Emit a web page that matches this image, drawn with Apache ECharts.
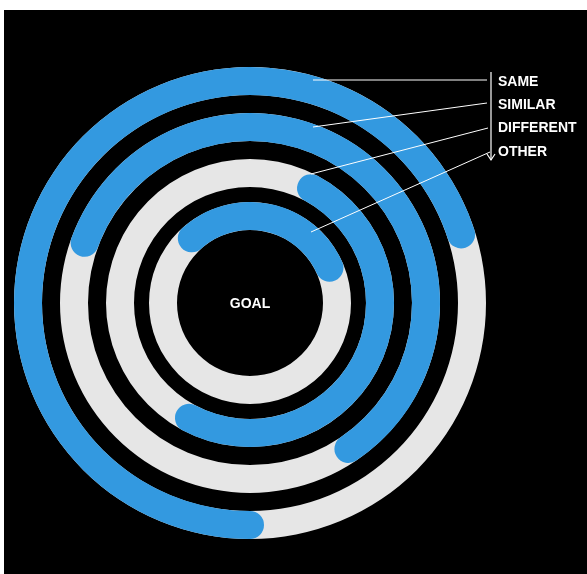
<!DOCTYPE html>
<html><head><meta charset="utf-8">
<script src="https://cdn.jsdelivr.net/npm/echarts@6/dist/echarts.min.js"></script>
<style>
html,body{margin:0;padding:0;background:#fff;width:587px;height:574px;overflow:hidden}
#c{position:absolute;left:4px;top:10px;width:583px;height:564px;background:#000}
</style>
</head><body><div id="c"></div>
<script>
// ---- data ----
const categories = ['SAME', 'SIMILAR', 'DIFFERENT', 'OTHER'];
const values = [70, 60, 50, 30];          // percent of each ring that is filled
const arcStarts = [270, 160, 62, 132];    // where each filled arc begins (degrees)
const centerLabel = 'GOAL';

// ---- layout ----
const CX = 246, CY = 293;
const outerR = [236, 190, 144, 101];
const ringW = 28;
const BLUE = '#3399e0', GREY = '#e6e6e6';
const FONT = 'Liberation Sans, Arial, Helvetica, sans-serif';

const labelX = 494;
const labelY = [72, 95, 118, 142];
const leaderStart = [[483, 70], [483, 93], [484, 118], [486, 142]];
const leaderEnd = [[309, 70], [309, 117], [307, 164], [307, 222]];

const chart = echarts.init(document.getElementById('c'), null, {renderer: 'canvas'});

const polar = categories.map((c, i) => ({center: [CX, CY], radius: [outerR[i] - ringW, outerR[i]]}));
const angleAxis = categories.map((c, i) => ({
  polarIndex: i, type: 'value', min: 0, max: 100, startAngle: arcStarts[i], clockwise: true, show: false
}));
const radiusAxis = categories.map((c, i) => ({polarIndex: i, type: 'category', data: [c], show: false}));
const series = categories.map((c, i) => ({
  type: 'bar', coordinateSystem: 'polar', polarIndex: i, name: c,
  data: [values[i]], barWidth: '100%', roundCap: true,
  showBackground: true, backgroundStyle: {color: GREY},
  itemStyle: {color: BLUE}, silent: true
}));

const graphic = [];
categories.forEach((c, i) => {
  graphic.push({type: 'line', shape: {x1: leaderStart[i][0], y1: leaderStart[i][1], x2: leaderEnd[i][0], y2: leaderEnd[i][1]},
    style: {stroke: '#fff', lineWidth: 1}, z: 10});
  graphic.push({type: 'text', x: labelX, y: labelY[i],
    style: {text: c, fill: '#fff', font: 'bold 14px ' + FONT, textVerticalAlign: 'middle', textAlign: 'left'}, z: 10});
});
graphic.push({type: 'line', shape: {x1: 487, y1: 62, x2: 487, y2: 150}, style: {stroke: '#fff', lineWidth: 1.2}, z: 10});
graphic.push({type: 'polyline', shape: {points: [[483, 144], [487, 150], [491, 144]]}, style: {stroke: '#fff', lineWidth: 1.2, fill: null}, z: 10});
graphic.push({type: 'text', x: CX, y: CY + 1,
  style: {text: centerLabel, fill: '#fff', font: 'bold 14px ' + FONT, textAlign: 'center', textVerticalAlign: 'middle'}, z: 10});

chart.setOption({
  backgroundColor: '#000',
  animation: false,
  polar, angleAxis, radiusAxis, series, graphic
});
</script>
</body></html>
